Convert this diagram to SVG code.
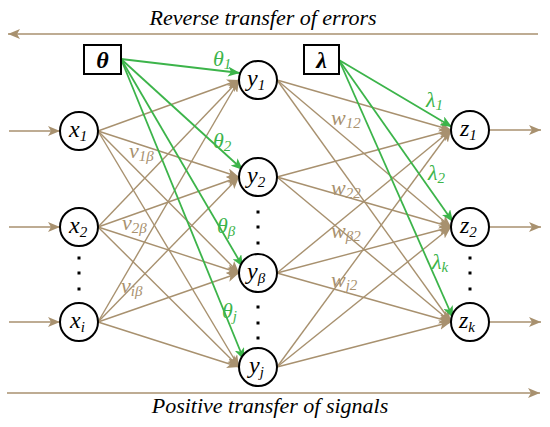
<svg xmlns="http://www.w3.org/2000/svg" width="550" height="427" viewBox="0 0 550 427">
<defs>
<marker id="at" markerUnits="userSpaceOnUse" markerWidth="14" markerHeight="10" refX="12" refY="5" orient="auto"><path d="M0,0 L12,5 L0,10 L3,5 Z" fill="#a8916f"/></marker>
<marker id="ag" markerUnits="userSpaceOnUse" markerWidth="14" markerHeight="10" refX="12" refY="5" orient="auto"><path d="M0,0 L12,5 L0,10 L3,5 Z" fill="#3cb44a"/></marker>
<style>
.t{stroke:#a8916f;stroke-width:1.4;fill:none}
.g{stroke:#3cb44a;stroke-width:1.8;fill:none}
.n{fill:#fff;stroke:#000;stroke-width:2}
text{font-family:'Liberation Serif','Times New Roman','DejaVu Serif',serif;font-style:italic}
.lb{font-size:24px;fill:#000}
.sb{font-size:15px}
.tl{font-size:22px;fill:#a8916f}
.gl{font-size:22px;fill:#3cb44a}
.cap{font-size:22px;fill:#000}
.d{fill:#000}
</style>
</defs>
<g id="connectors">
<line class="t" x1="538" y1="34" x2="8" y2="34" marker-end="url(#at)"/>
<line class="t" x1="7" y1="393" x2="540" y2="393" marker-end="url(#at)"/>
<line class="t" x1="9" y1="131" x2="60" y2="131" marker-end="url(#at)"/>
<line class="t" x1="9" y1="227" x2="60" y2="227" marker-end="url(#at)"/>
<line class="t" x1="9" y1="322" x2="60" y2="322" marker-end="url(#at)"/>
<line class="t" x1="489" y1="130" x2="541" y2="130" marker-end="url(#at)"/>
<line class="t" x1="489" y1="227" x2="541" y2="227" marker-end="url(#at)"/>
<line class="t" x1="489" y1="322" x2="541" y2="322" marker-end="url(#at)"/>
<line class="t" x1="98" y1="131" x2="239" y2="80" marker-end="url(#at)"/>
<line class="t" x1="98" y1="131" x2="239" y2="177" marker-end="url(#at)"/>
<line class="t" x1="98" y1="131" x2="239" y2="273" marker-end="url(#at)"/>
<line class="t" x1="98" y1="131" x2="239" y2="367" marker-end="url(#at)"/>
<line class="t" x1="98" y1="227" x2="239" y2="80" marker-end="url(#at)"/>
<line class="t" x1="98" y1="227" x2="239" y2="177" marker-end="url(#at)"/>
<line class="t" x1="98" y1="227" x2="239" y2="273" marker-end="url(#at)"/>
<line class="t" x1="98" y1="227" x2="239" y2="367" marker-end="url(#at)"/>
<line class="t" x1="98" y1="322" x2="239" y2="80" marker-end="url(#at)"/>
<line class="t" x1="98" y1="322" x2="239" y2="177" marker-end="url(#at)"/>
<line class="t" x1="98" y1="322" x2="239" y2="273" marker-end="url(#at)"/>
<line class="t" x1="98" y1="322" x2="239" y2="367" marker-end="url(#at)"/>
<line class="t" x1="277" y1="80" x2="451" y2="130" marker-end="url(#at)"/>
<line class="t" x1="277" y1="80" x2="451" y2="227" marker-end="url(#at)"/>
<line class="t" x1="277" y1="80" x2="451" y2="322" marker-end="url(#at)"/>
<line class="t" x1="277" y1="177" x2="451" y2="130" marker-end="url(#at)"/>
<line class="t" x1="277" y1="177" x2="451" y2="227" marker-end="url(#at)"/>
<line class="t" x1="277" y1="177" x2="451" y2="322" marker-end="url(#at)"/>
<line class="t" x1="277" y1="273" x2="451" y2="130" marker-end="url(#at)"/>
<line class="t" x1="277" y1="273" x2="451" y2="227" marker-end="url(#at)"/>
<line class="t" x1="277" y1="273" x2="451" y2="322" marker-end="url(#at)"/>
<line class="t" x1="277" y1="367" x2="451" y2="130" marker-end="url(#at)"/>
<line class="t" x1="277" y1="367" x2="451" y2="227" marker-end="url(#at)"/>
<line class="t" x1="277" y1="367" x2="451" y2="322" marker-end="url(#at)"/>
<line class="g" x1="121" y1="59" x2="240" y2="73" marker-end="url(#ag)"/>
<line class="g" x1="121" y1="59" x2="243" y2="170" marker-end="url(#ag)"/>
<line class="g" x1="121" y1="59" x2="243" y2="267" marker-end="url(#ag)"/>
<line class="g" x1="121" y1="59" x2="244" y2="360" marker-end="url(#ag)"/>
<line class="g" x1="339" y1="60" x2="452" y2="127" marker-end="url(#ag)"/>
<line class="g" x1="339" y1="60" x2="453" y2="222" marker-end="url(#ag)"/>
<line class="g" x1="339" y1="60" x2="453" y2="318" marker-end="url(#ag)"/>
</g>
<g id="labels">
<text class="cap" x="263" y="25" text-anchor="middle">Reverse transfer of errors</text>
<text class="cap" x="270" y="413" text-anchor="middle">Positive transfer of signals</text>
<text class="gl" x="213" y="66">θ<tspan class="sb" dy="3">1</tspan></text>
<text class="gl" x="213" y="148">θ<tspan class="sb" dy="3">2</tspan></text>
<text class="gl" x="217" y="233">θ<tspan class="sb" dy="3">β</tspan></text>
<text class="gl" x="222" y="318">θ<tspan class="sb" dy="3">j</tspan></text>
<text class="gl" x="426" y="107">λ<tspan class="sb" dy="3">1</tspan></text>
<text class="gl" x="428" y="180">λ<tspan class="sb" dy="3">2</tspan></text>
<text class="gl" x="432" y="269">λ<tspan class="sb" dy="3">k</tspan></text>
<text class="tl" x="129" y="158">v<tspan class="sb" dy="3">1β</tspan></text>
<text class="tl" x="122" y="230">v<tspan class="sb" dy="3">2β</tspan></text>
<text class="tl" x="121" y="293">v<tspan class="sb" dy="3">iβ</tspan></text>
<text class="tl" x="331" y="125">w<tspan class="sb" dy="3">12</tspan></text>
<text class="tl" x="331" y="195">w<tspan class="sb" dy="3">22</tspan></text>
<text class="tl" x="331" y="238">w<tspan class="sb" dy="3">β2</tspan></text>
<text class="tl" x="331" y="287">w<tspan class="sb" dy="3">j2</tspan></text>
</g>
<g id="theta"><rect class="n" x="84" y="45" width="37" height="29"/><text class="lb" x="102.5" y="68" text-anchor="middle" font-weight="bold">θ</text></g>
<g id="lambda"><rect class="n" x="304" y="45" width="35" height="29"/><text class="lb" x="321.5" y="68" text-anchor="middle" font-weight="bold">λ</text></g>
<g id="x1"><circle class="n" cx="79" cy="131" r="19"/><text class="lb" x="69" y="137">x<tspan class="sb" dy="4">1</tspan></text></g>
<g id="x2"><circle class="n" cx="79" cy="227" r="19"/><text class="lb" x="69" y="233">x<tspan class="sb" dy="4">2</tspan></text></g>
<g id="xi"><circle class="n" cx="79" cy="322" r="19"/><text class="lb" x="70" y="328">x<tspan class="sb" dy="4">i</tspan></text></g>
<g id="y1"><circle class="n" cx="258" cy="80" r="19"/><text class="lb" x="247" y="86">y<tspan class="sb" dy="4">1</tspan></text></g>
<g id="y2"><circle class="n" cx="258" cy="177" r="19"/><text class="lb" x="247" y="183">y<tspan class="sb" dy="4">2</tspan></text></g>
<g id="yb"><circle class="n" cx="258" cy="273" r="19"/><text class="lb" x="247" y="279">y<tspan class="sb" dy="4">β</tspan></text></g>
<g id="yj"><circle class="n" cx="258" cy="367" r="19"/><text class="lb" x="249" y="373">y<tspan class="sb" dy="4">j</tspan></text></g>
<g id="z1"><circle class="n" cx="470" cy="130" r="19"/><text class="lb" x="460" y="136">z<tspan class="sb" dy="4">1</tspan></text></g>
<g id="z2"><circle class="n" cx="470" cy="227" r="19"/><text class="lb" x="460" y="233">z<tspan class="sb" dy="4">2</tspan></text></g>
<g id="zk"><circle class="n" cx="470" cy="322" r="19"/><text class="lb" x="459" y="328">z<tspan class="sb" dy="4">k</tspan></text></g>
<g id="dots">
<rect class="d" x="77.5" y="256.5" width="3" height="3"/><rect class="d" x="77.5" y="271.5" width="3" height="3"/><rect class="d" x="77.5" y="287.5" width="3" height="3"/>
<rect class="d" x="468.5" y="256.5" width="3" height="3"/><rect class="d" x="468.5" y="271.5" width="3" height="3"/><rect class="d" x="468.5" y="287.5" width="3" height="3"/>
<rect class="d" x="256.5" y="210.5" width="3" height="3"/><rect class="d" x="256.5" y="225.5" width="3" height="3"/><rect class="d" x="256.5" y="241.5" width="3" height="3"/>
<rect class="d" x="256.5" y="305.5" width="3" height="3"/><rect class="d" x="256.5" y="321.5" width="3" height="3"/><rect class="d" x="256.5" y="336.5" width="3" height="3"/>
</g>
</svg>
